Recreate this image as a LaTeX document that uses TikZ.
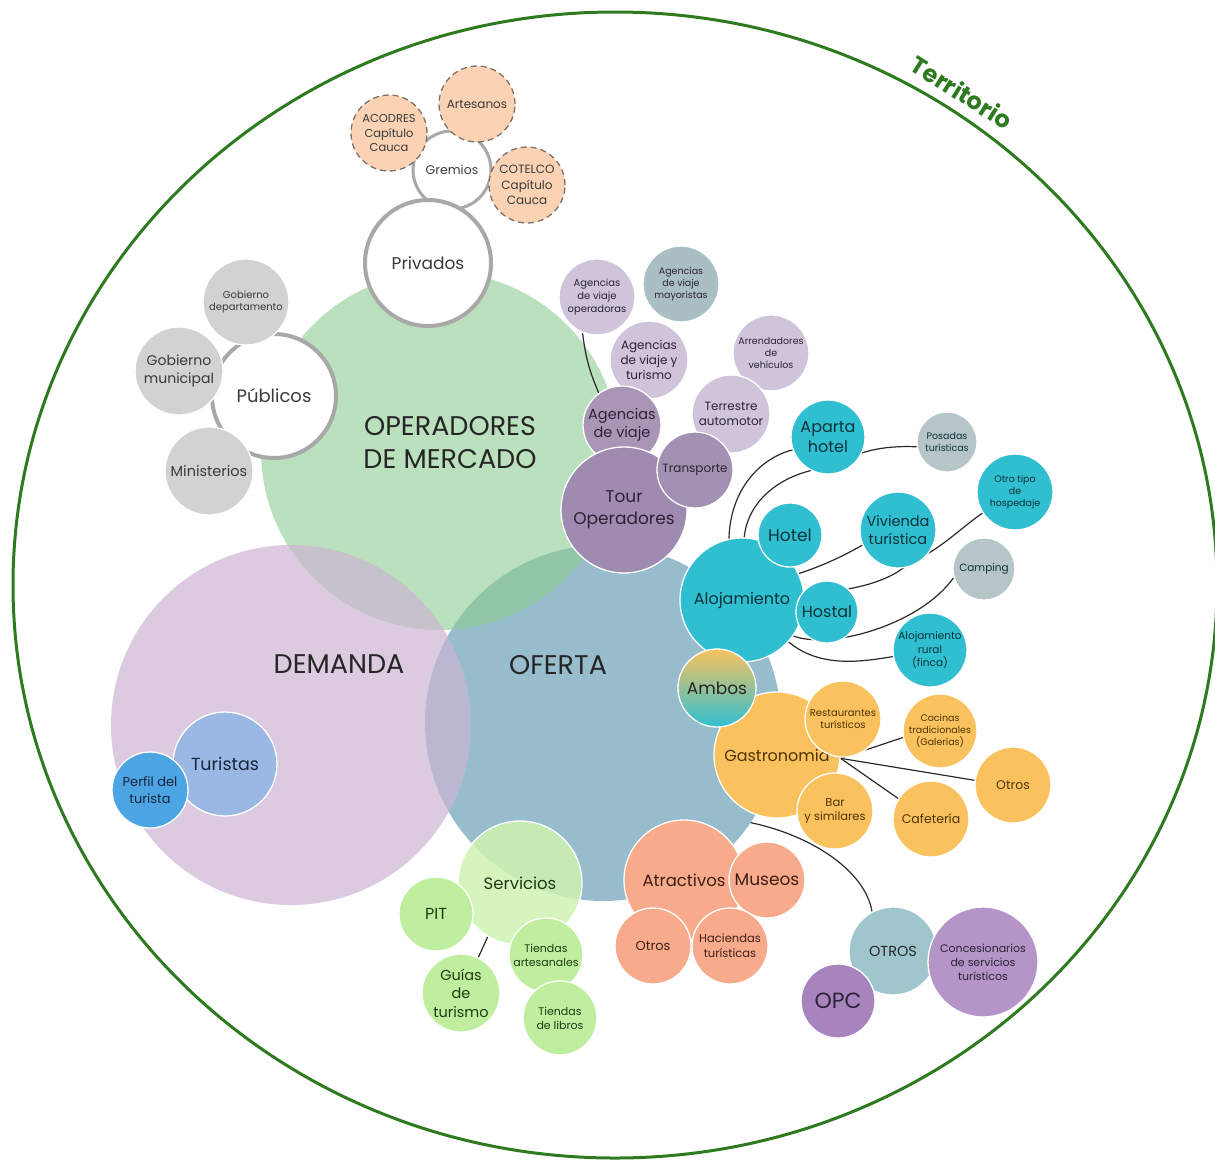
\documentclass[tikz,border=0pt]{standalone}
\usepackage{fontspec}
\setmainfont{Poppins}
\pgfdeclarelayer{bg}
\pgfdeclarelayer{lines}
\pgfsetlayers{bg,lines,main}
\newcommand\fs[1]{\fontsize{#1}{\fpeval{#1*1.28}}\selectfont}
\definecolor{terrc}{HTML}{2E7A1E}
\definecolor{ofertac}{HTML}{97BCCB}
\definecolor{operc}{HTML}{8CCB91}
\definecolor{demc}{HTML}{CDB5D3}
\definecolor{txtdark}{HTML}{262626}
\definecolor{ringgray}{HTML}{A8A8A8}
\definecolor{txtgray}{HTML}{3A3A3A}
\definecolor{grayc}{HTML}{D2D2D2}
\definecolor{peachc}{HTML}{FBD3B4}
\definecolor{dashc}{HTML}{7D7068}
\definecolor{lpurp}{HTML}{CFC4DA}
\definecolor{mayc}{HTML}{A9BFC4}
\definecolor{agvc}{HTML}{A996B7}
\definecolor{tourc}{HTML}{9F8BAF}
\definecolor{transc}{HTML}{A391B3}
\definecolor{txtpurp}{HTML}{2D2338}
\definecolor{tealc}{HTML}{2FBFD0}
\definecolor{grteal}{HTML}{B5C5C8}
\definecolor{txtteal}{HTML}{0D3338}
\definecolor{orc}{HTML}{FAC25F}
\definecolor{txtor}{HTML}{4F3300}
\definecolor{salc}{HTML}{F7AA8C}
\definecolor{txtsal}{HTML}{3F1F14}
\definecolor{servc}{HTML}{CFF3B1}
\definecolor{lgreen}{HTML}{BFEF9E}
\definecolor{txtgreen}{HTML}{1F3A14}
\definecolor{otrosc}{HTML}{9FC5CD}
\definecolor{concc}{HTML}{B594C7}
\definecolor{opcc}{HTML}{A884BF}
\definecolor{turc}{HTML}{9AB8E3}
\definecolor{perfc}{HTML}{4DA4E2}
\definecolor{txtblue}{HTML}{16263F}
\definecolor{linec}{HTML}{2A2A2A}
\begin{document}
\begin{tikzpicture}[x=1pt,y=-1pt,
  bub/.style={circle, draw=white, line width=1.3pt, inner sep=0pt, align=center},
  big/.style={circle, inner sep=0pt, draw=none},
  lbl/.style={inner sep=0pt, align=center, text=txtdark},
  conn/.style={draw=linec, line width=1.2pt},
  ring/.style={circle, draw=ringgray, line width=4pt, fill=white, inner sep=0pt, align=center, text=txtgray},
  peach/.style={circle, draw=dashc, line width=1.3pt, dash pattern=on 6pt off 4pt, fill=peachc, inner sep=0pt, align=center, text=txtgray},
]
\useasboundingbox (0,0) rectangle (1215,1160);

\begin{pgfonlayer}{bg}
\draw[draw=terrc, line width=3pt] (615,585) ellipse [x radius=602pt, y radius=573pt];
\node[big, minimum size=356pt, fill=ofertac] (oferta) at (603,723) {};
\node[big, minimum size=358pt, fill=operc, fill opacity=0.6] (oper) at (440,451) {};
\node[big, minimum size=360pt, fill=demc, fill opacity=0.7] (dem) at (291,725) {};
\node[lbl, font=\fontsize{27}{33}\selectfont] (operl) at (450,443) {OPERADORES\\DE MERCADO};
\node[lbl, font=\fs{27}] (deml) at (339,664) {DEMANDA};
\node[lbl, font=\fs{27}] (ofl) at (558,665) {OFERTA};
\end{pgfonlayer}

\node[lbl, text=terrc, font=\bfseries\fs{24}, rotate=-32] (terr) at (962,92) {Territorio};

% Demanda
\node[bub, fill=turc, text=txtblue, minimum size=104pt, font=\fs{17.5}] (tur) at (225,764) {Turistas};
\node[bub, fill=perfc, text=txtblue, minimum size=76pt, font=\fs{13}] (perf) at (150,790) {Perfil del\\turista};

% Privados
\node[ring, line width=3pt, minimum size=78pt, font=\fs{12.5}] (grem) at (452,170) {Gremios};
\node[peach, minimum size=76pt, font=\fs{11.5}] (acod) at (389,133) {ACODRES\\Capítulo\\Cauca};
\node[peach, minimum size=76pt, font=\fs{12}] (arte) at (477,104) {Artesanos};
\node[peach, minimum size=76pt, font=\fs{12}] (cotel) at (527,185) {COTELCO\\Capítulo\\Cauca};
\node[ring, minimum size=126pt, font=\fs{17}] (priv) at (428,263) {Privados};

% Publicos
\node[ring, minimum size=124pt, font=\fs{18}] (pub) at (274,396) {Públicos};
\node[bub, fill=grayc, text=txtgray, minimum size=86pt, font=\fs{10}] (gdep) at (246,302) {Gobierno\\departamento};
\node[bub, fill=grayc, text=txtgray, minimum size=88pt, font=\fs{14}] (gmun) at (179,371) {Gobierno\\municipal};
\node[bub, fill=grayc, text=txtgray, minimum size=88pt, font=\fs{14.5}] (mini) at (209,471) {Ministerios};

% Operadores / agencias
\node[bub, fill=lpurp, text=txtpurp, minimum size=76pt, font=\fs{10}] (ago) at (597,297) {Agencias\\de viaje\\operadoras};
\node[bub, fill=mayc, text=txtpurp, minimum size=76pt, font=\fs{9.5}] (agm) at (681,284) {Agencias\\de viaje\\mayoristas};
\node[bub, fill=lpurp, text=txtpurp, minimum size=78pt, font=\fs{12}] (agt) at (649,360) {Agencias\\de viaje y\\turismo};
\node[bub, fill=lpurp, text=txtpurp, minimum size=76pt, font=\fs{9.5}] (arr) at (771,353) {Arrendadores\\de\\vehículos};
\node[bub, fill=lpurp, text=txtpurp, minimum size=78pt, font=\fs{12}] (terre) at (731,414) {Terrestre\\automotor};
\node[bub, fill=agvc, text=txtpurp, minimum size=78pt, font=\fs{14.5}] (agv) at (622,425) {Agencias\\de viaje};
\node[bub, fill=tourc, text=txtpurp, minimum size=126pt, font=\fs{17}] (tour) at (624,510) {Tour\\Operadores};
\node[bub, fill=transc, text=txtpurp, minimum size=76pt, font=\fs{12}] (trans) at (695,470) {Transporte};

% Alojamiento
\node[bub, fill=tealc, text=txtteal, minimum size=124pt, font=\fs{16}] (aloj) at (742,600) {Alojamiento};
\node[bub, fill=tealc, text=txtteal, minimum size=64pt, font=\fs{17}] (hotel) at (790,535) {Hotel};
\node[bub, fill=tealc, text=txtteal, minimum size=62pt, font=\fs{16}] (hostal) at (827,612) {Hostal};
\node[bub, fill=tealc, text=txtteal, minimum size=74pt, font=\fs{16}] (aparta) at (828,437) {Aparta\\hotel};
\node[bub, fill=tealc, text=txtteal, minimum size=76pt, font=\fs{14.5}] (viv) at (898,530) {Vivienda\\turística};
\node[bub, fill=grteal, text=txtteal, minimum size=60pt, font=\fs{9.5}] (posad) at (947,442) {Posadas\\turísticas};
\node[bub, fill=tealc, text=txtteal, minimum size=76pt, font=\fs{9.5}] (otro) at (1015,492) {Otro tipo\\de\\hospedaje};
\node[bub, fill=grteal, text=txtteal, minimum size=62pt, font=\fs{10.5}] (camp) at (984,569) {Camping};
\node[bub, fill=tealc, text=txtteal, minimum size=74pt, font=\fs{10.5}] (rural) at (930,650) {Alojamiento\\rural\\(finca)};

% Gastronomia
\node[bub, fill=orc, text=txtor, minimum size=126pt, font=\fs{16}] (gast) at (777,755) {Gastronomia};
\node[bub, fill=orc, text=txtor, minimum size=76pt, font=\fs{10}] (rest) at (843,719) {Restaurantes\\turísticos};
\node[bub, fill=orc, text=txtor, minimum size=76pt, font=\fs{11.5}] (bar) at (835,811) {Bar\\y similares};
\node[bub, fill=orc, text=txtor, minimum size=74pt, font=\fs{9.5}] (coc) at (940,731) {Cocinas\\tradicionales\\(Galerías)};
\node[bub, fill=orc, text=txtor, minimum size=76pt, font=\fs{12.5}] (otrg) at (1013,785) {Otros};
\node[bub, fill=orc, text=txtor, minimum size=76pt, font=\fs{12.5}] (caf) at (931,819) {Cafetería};

\node[circle, draw=white, line width=1.3pt, inner sep=0pt, top color=orc, bottom color=tealc, minimum size=78pt, font=\fs{17}, text=txtdark] (ambos) at (717,688) {Ambos};

% Atractivos
\node[bub, fill=salc, text=txtsal, minimum size=120pt, font=\fs{16.5}] (atr) at (684,880) {Atractivos};
\node[bub, fill=salc, text=txtsal, minimum size=76pt, font=\fs{17}] (mus) at (767,880) {Museos};
\node[bub, fill=salc, text=txtsal, minimum size=76pt, font=\fs{13}] (otra) at (653,946) {Otros};
\node[bub, fill=salc, text=txtsal, minimum size=76pt, font=\fs{11.5}] (hac) at (730,946) {Haciendas\\turísticas};

% Servicios
\node[bub, fill=servc, fill opacity=0.85, text opacity=1, text=txtgreen, minimum size=124pt, font=\fs{16.5}] (serv) at (520,883) {Servicios};
\node[bub, fill=lgreen, text=txtgreen, minimum size=74pt, font=\fs{16}] (pit) at (436,914) {PIT};
\node[bub, fill=lgreen, text=txtgreen, minimum size=78pt, font=\fs{14.5}] (guia) at (461,993) {Guías\\de\\turismo};
\node[bub, fill=lgreen, text=txtgreen, minimum size=74pt, font=\fs{11}] (tart) at (546,955) {Tiendas\\artesanales};
\node[bub, fill=lgreen, text=txtgreen, minimum size=74pt, font=\fs{11}] (tlib) at (560,1018) {Tiendas\\de libros};

% Otros
\node[bub, fill=otrosc, text=txtdark, minimum size=88pt, font=\fs{14.5}] (otros) at (893,951) {OTROS};
\node[bub, fill=concc, text=txtpurp, minimum size=110pt, font=\fs{11}] (conc) at (983,962) {Concesionarios\\de servicios\\turísticos};
\node[bub, fill=opcc, text=txtpurp, minimum size=74pt, font=\fs{22}] (opc) at (838,1001) {OPC};

\begin{pgfonlayer}{lines}
\draw[conn] (ago.248) to[bend right=8] (agv.126);
\draw[conn] (aloj.102) .. controls (730,490) and (760,458) .. (aparta.200);
\draw[conn] (aloj.88) .. controls (748,500) and (780,478) .. (aparta.243) -- (aparta.335) .. controls (880,447) and (900,446) .. (posad.189);
\draw[conn] (aloj.25) .. controls (825,565) and (845,555) .. (viv.203);
\draw[conn] (hostal.47) .. controls (870,585) and (890,578) .. (viv.277) -- (viv.324) .. controls (950,540) and (965,525) .. (otro.213);
\draw[conn] (aloj.325) .. controls (830,650) and (920,625) .. (camp.196);
\draw[conn] (aloj.318) .. controls (820,668) and (860,662) .. (rural.190);
\draw[conn] (gast.-3) -- (coc.190);
\draw[conn] (gast.-3) -- (otrg.173);
\draw[conn] (gast.-3) -- (caf.148);
\draw[conn] (serv.239) -- (guia.64);
\draw[conn] (oferta.-34) .. controls (810,835) and (865,870) .. (otros.118);
\end{pgfonlayer}
\end{tikzpicture}
\end{document}
